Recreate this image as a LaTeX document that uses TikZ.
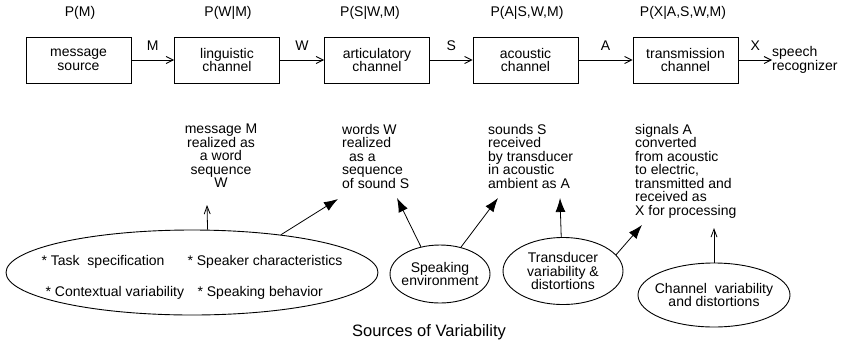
\documentclass[tikz,border=0pt]{standalone}
\usepackage{fontspec}
\setmainfont{Liberation Sans}
\usetikzlibrary{arrows.meta,shapes.geometric}
\newcommand{\bodyfont}{\fontsize{14}{13.5}\selectfont}
\tikzset{
	chan/.style={draw, line width=0.9pt, minimum width=105pt, minimum height=46pt, inner sep=0pt, align=center},
	src/.style={draw, ellipse, line width=0.9pt, inner sep=0pt},
	note/.style={inner sep=0pt, align=left},
	flow/.style={line width=0.9pt, -{Straight Barb[length=7pt,width=7pt]}},
	lift/.style={line width=0.8pt, -{Straight Barb[length=8pt,width=6pt]}},
	hit/.style={line width=0.8pt, -{Latex[length=14pt,width=10pt]}}
}

\begin{document}
\begin{tikzpicture}[x=1pt, y=-1pt, font=\bodyfont]
			%%%%% START %%%%%
			\useasboundingbox (0,0) rectangle (853,346);
			
			% channel chain
			\node[chan] (msg) at (78.5,60) {message\\source};
			\node[chan] (ling) at (227,60) {linguistic\\channel};
			\node[chan] (artic) at (377,60) {articulatory\\channel};
			\node[chan] (acou) at (525.5,60) {acoustic\\channel};
			\node[chan] (trans) at (685.5,60) {transmission\\channel};
			\node[note, anchor=west] (recog) at (772,60) {speech\\recognizer};
			
			\node (pM) at (80,13) {P(M)};
			\node (pW) at (228,13) {P(W|M)};
			\node (pS) at (370,13) {P(S|W,M)};
			\node (pA) at (527,13) {P(A|S,W,M)};
			\node (pX) at (683,13) {P(X|A,S,W,M)};
			
			\draw[flow] (msg) -- node[above=6pt] (lM) {M} (ling);
			\draw[flow] (ling) -- node[above=6pt] (lW) {W} (artic);
			\draw[flow] (artic) -- node[above=6pt] (lS) {S} (acou);
			\draw[flow] (acou) -- node[above=6pt] (lA) {A} (trans);
			\draw[flow] (trans) -- node[above=6pt] (lX) {X} (recog);
			
			% what each channel does
			\node[note, align=center, anchor=north] (wseq) at (221,124) {message M\\realized as\\a word\\sequence\\W};
			\node[note, anchor=north west] (sseq) at (342,124) {words W\\realized\\\hspace{7pt}as a\\sequence\\of sound S};
			\node[note, anchor=north west] (recv) at (488,124) {sounds S\\received\\by transducer\\in acoustic\\ambient as A};
			\node[note, anchor=north west] (conv) at (635,124) {signals A\\converted\\from acoustic\\to electric,\\transmitted and\\received as\\X for processing};
			
			% sources of variability
			\node[src, minimum width=372pt, minimum height=85pt, label={[note, yshift=-5pt]center:\makebox[146pt][l]{* Task\ \ specification}* Speaker characteristics\\[17pt]\hspace{4pt}\makebox[152pt][l]{* Contextual variability}* Speaking behavior}] (task) at (192,272.5) {};
			\node[src, minimum width=100pt, minimum height=58pt, label={[note, align=center]center:Speaking\\environment}] (env) at (440,274) {};
			\node[src, minimum width=120pt, minimum height=67pt, label={[note, align=center]center:Transducer\\variability \&\\distortions}] (tvar) at (563,271) {};
			\node[src, minimum width=152pt, minimum height=64pt, label={[note, align=center]center:Channel\ \ variability\\and distortions}] (chvar) at (714,295) {};
			
			\node (srcs) at (429,332) {\fontsize{16.5}{16.5}\selectfont Sources of Variability};
			
			\coordinate (t1) at (207,205);
			\coordinate (t2) at (338,199);
			\coordinate (t3) at (397,198);
			\coordinate (t4) at (498,198);
			\coordinate (t5) at (560,198);
			\coordinate (t6) at (642,225);
			\coordinate (t7) at (714,228);
			
			\draw[lift] (task.70.5) -- (t1);
			\draw[hit] (task.23) -- (t2);
			\draw[hit] (env.125) -- (t3);
			\draw[hit] (env.52) -- (t4);
			\draw[hit] (tvar.93) -- (t5);
			\draw[hit] (tvar.17) -- (t6);
			\draw[lift] (chvar.north) -- (t7);
			%%%%% END %%%%%
\end{tikzpicture}
\end{document}
